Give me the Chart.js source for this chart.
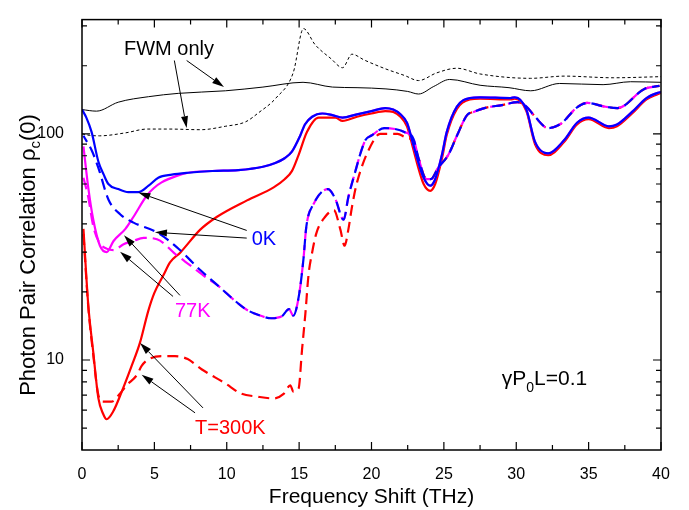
<!DOCTYPE html>
<html>
<head>
<meta charset="utf-8">
<script src="https://cdn.jsdelivr.net/npm/chart.js@4.4.0/dist/chart.umd.min.js"></script>
<style>
  body { margin: 0; background: #fff; }
  canvas { display: block; }
</style>
</head>
<body>
<canvas id="myChart" width="689" height="510"></canvas>
<script>
// tick labels
const xTickValues = [0, 5, 10, 15, 20, 25, 30, 35, 40];
const yTickValues = [5, 6, 7, 8, 9, 10, 20, 30, 40, 50, 60, 70, 80, 90, 100, 200, 300];
const yTickLabels = [10, 100];

// FWM only (black)
const fwmSolidX = [0, 1.0, 2.5, 4.6, 6.65, 9.9, 12.5, 15.27, 17.3, 19, 21, 22.5, 23.25, 24.3, 25.4, 27.5, 29.5, 31, 33, 36, 37.9, 40];
const fwmSolidY = [128, 126, 138, 146, 151, 155, 161, 169, 161, 160, 158, 154, 150, 162, 174, 164, 160, 155, 167, 165, 170, 169];
const fwmDotX = [0, 0.5, 1.2, 3, 4.5, 6, 8.2, 9.9, 11.3, 12.2, 13.4, 14.6, 15.3, 16.1, 17.2, 18.0, 18.65, 19.5, 20.95, 22.3, 23.25, 24.5, 25.9, 27.5, 31, 33.3, 36.7, 40];
const fwmDotY = [100, 98.5, 98, 101, 105, 105, 104.3, 108, 113, 124, 144, 187, 292, 248, 215, 196, 225, 212, 194, 181, 172, 186, 195, 184, 176, 180, 177, 179];

// 0K (blue)
const k0SolidX = [0, 0.3, 0.66, 1.13, 1.5, 1.82, 2.5, 3.2, 3.9, 4.6, 5.27, 6.2, 7.34, 9, 10.8, 12.5, 13.35, 14.0, 14.5, 15.08, 15.4, 15.9, 16.6, 17.3, 18.0, 19, 20, 20.95, 21.5, 22.0, 22.45, 22.9, 23.15, 23.6, 24.06, 24.4, 24.87, 25.2, 25.9, 26.8, 27.5, 29.6, 29.9, 30.7, 31.3, 32.2, 33.3, 34.2, 35.0, 36.4, 36.96, 38, 39.0, 39.8, 40];
const k0SolidY = [128, 118, 102, 75.5, 66, 60, 57, 55.2, 55.3, 59, 64, 66, 67.3, 68.5, 69.1, 71.5, 74.3, 78, 83.4, 98.3, 110, 119, 123, 121, 118, 122, 126, 130, 128, 122, 112, 89, 78, 64, 59, 63, 81, 102, 132, 144, 145, 144, 145, 128, 92, 82, 93.6, 112, 118, 108, 110, 125, 144, 152, 153];
const k0DashX = [0.1, 0.66, 1.13, 1.84, 2.65, 3.56, 5.18, 6.56, 8.17, 9.33, 10.47, 11.3, 12.2, 13.1, 13.8, 14.3, 14.6, 15.0, 15.3, 15.5, 16.0, 17.0, 17.5, 18.07, 18.4, 18.76, 19.57, 20.0, 20.9, 22.3, 22.9, 23.25, 23.8, 24.1, 24.6, 25.3, 25.9, 26.6, 27.05, 27.8, 29.0, 30.1, 30.7, 31.3, 32.2, 33.1, 34.2, 34.9, 36.1, 37.0, 38.85, 39.9];
const k0DashY = [98, 84.8, 70.7, 51, 44, 40.5, 36.7, 31.5, 25, 21.5, 18.5, 16.8, 15.8, 15.3, 15.6, 16.8, 15.7, 19.5, 28, 39, 49, 57, 51.6, 41.7, 52.5, 64, 93.6, 98.3, 106, 101.7, 95, 78, 63, 63, 70.7, 80.6, 98, 121, 125, 130, 134, 138, 132, 119, 106, 111, 131, 137, 132, 130, 158, 163];

// 77K (magenta)
const k77SolidX = [0.1, 0.43, 0.78, 1.24, 1.7, 2.18, 3.0, 3.56, 4.49, 4.95, 5.5, 6.5, 7.34, 9, 10.8, 12.5, 13.35, 14.0, 14.5, 15.08, 15.4, 15.9, 16.6, 17.3, 18.0, 19, 20, 20.95, 21.5, 22.0, 22.45, 22.9, 23.15, 23.6, 24.06, 24.4, 24.87, 25.2, 25.9, 26.8, 27.5, 29.6, 29.9, 30.7, 31.3, 32.2, 33.3, 34.2, 35.0, 36.4, 36.96, 38, 39.0, 39.8, 40];
const k77SolidY = [88, 58, 41.7, 32, 30, 33.6, 38, 43, 53.5, 57.5, 61, 65, 67.3, 68.5, 69.1, 71.5, 74.3, 78, 83.4, 98.3, 110, 119, 123, 121, 118, 122, 126, 130, 128, 122, 112, 89, 78, 64, 59, 63, 81, 102, 132, 144, 145, 144, 145, 128, 92, 82, 93.6, 112, 118, 108, 110, 125, 144, 152, 153];
const k77DashX = [0.1, 0.43, 0.78, 1.2, 1.73, 2.2, 2.87, 3.5, 4.26, 5.18, 6.56, 7.48, 8.64, 9.33, 10.47, 11.3, 12.2, 13.1, 13.8, 14.3, 14.6, 15.0, 15.3, 15.5, 16.0, 17.0, 17.5, 18.07, 18.4, 18.76, 19.57, 20.0, 20.9, 22.3, 22.9, 23.25, 23.8, 24.1, 24.6, 25.3, 25.9, 26.6, 27.05, 27.8, 29.0, 30.1, 30.7, 31.3, 32.2, 33.1, 34.2, 34.9, 36.1, 37.0, 38.85, 39.9];
const k77DashY = [64, 52.5, 39, 33, 31, 30.6, 32.5, 33.5, 34.7, 34.2, 29, 26.2, 23, 21.5, 18.5, 16.8, 15.8, 15.3, 15.6, 16.8, 15.7, 19.5, 28, 39, 49, 57, 51.6, 41.7, 52.5, 64, 93.6, 98.3, 106, 101.7, 95, 78, 63, 63, 70.7, 80.6, 98, 121, 125, 130, 134, 138, 132, 119, 106, 111, 131, 137, 132, 130, 158, 163];

// T=300K (red)
const k300SolidX = [0.1, 0.43, 0.78, 1.13, 1.45, 1.7, 2.16, 2.74, 3.43, 4.0, 4.58, 5.0, 5.64, 6.08, 6.8, 8.17, 9.33, 11.4, 13.24, 14.0, 14.5, 14.96, 15.54, 16.35, 17.5, 18.0, 19, 20, 20.95, 21.5, 22.0, 22.45, 22.9, 23.15, 23.6, 24.06, 24.4, 24.87, 25.2, 25.9, 26.8, 27.5, 29.6, 29.9, 30.7, 31.3, 32.2, 33.3, 34.2, 35.0, 36.4, 36.96, 38, 39.0, 39.8, 40];
const k300SolidY = [38, 17.6, 10.8, 6.78, 5.8, 5.47, 5.93, 7.23, 9.42, 11.9, 16.5, 19.8, 23.8, 27, 29.9, 37.7, 43, 50.8, 58, 63, 68.4, 80.6, 102, 118, 118, 114, 119, 123, 126, 125, 119, 108, 85, 74, 60, 56, 60, 78, 99, 129, 142, 143, 142, 143, 126, 90, 80.5, 92, 110, 116, 106, 108, 123, 142, 150, 152];
const k300DashX = [0.1, 0.43, 0.78, 1.13, 1.47, 2.04, 2.62, 3.08, 3.8, 4.12, 4.58, 5.5, 6.42, 7.3, 8.26, 9.88, 11.0, 12.09, 13.24, 13.93, 14.39, 14.6, 14.96, 15.2, 15.43, 15.65, 15.9, 16.2, 16.8, 17.4, 17.85, 18.14, 18.4, 18.65, 19.0, 20.15, 20.6, 21.8, 22.3, 22.9, 23.25, 23.8, 24.1, 24.6, 25.3, 25.9, 26.6, 27.05, 27.8, 29.0, 30.1, 30.7, 31.3, 32.2, 33.1, 34.2, 34.9, 36.1, 37.0, 38.85, 39.9];
const k300DashY = [36, 17.3, 10.5, 7.0, 6.55, 6.55, 7.1, 7.73, 8.6, 9.42, 10.06, 10.4, 10.4, 10.1, 9.1, 7.9, 7.1, 6.89, 6.76, 7.08, 7.73, 7.25, 7.47, 11.1, 16, 23.8, 29.9, 36.5, 43, 46, 37.7, 32, 37.7, 47.5, 61, 93.6, 100, 100, 96.8, 92, 78, 63, 63, 70.7, 80.6, 98, 121, 125, 130, 134, 138, 132, 119, 106, 111, 131, 137, 132, 130, 158, 163];

const FONT = "'Liberation Sans', Arial, Helvetica, sans-serif";

function pts(xs, ys) {
  return xs.map((x, i) => ({ x: x, y: ys[i] }));
}

function series(xs, ys, color, width, dash, offset, order) {
  return {
    data: pts(xs, ys),
    borderColor: color,
    borderWidth: width,
    borderDash: dash,
    borderDashOffset: offset,
    pointRadius: 0,
    fill: false,
    cubicInterpolationMode: "monotone",
    order: order,
  };
}

// labels and arrows, in data units (THz, correlation)
const labels = [
  { text: "FWM only", x: 2.9, y: 224, color: "#000" },
  { text: "0K", x: 11.72, y: 32.2, color: "#0000ff" },
  { text: "77K", x: 6.42, y: 15.5, color: "#ff00ff" },
  { text: "T=300K", x: 7.81, y: 4.72, color: "#ff0000" },
];
const arrows = [
  [7.23, 211, 9.81, 161],
  [6.38, 211, 7.23, 106],
  [11.38, 37.4, 3.89, 55.0],
  [11.38, 34.6, 5.04, 36.7],
  [6.77, 19.3, 2.9, 35.6],
  [6.29, 19.1, 2.63, 30.1],
  [8.36, 6.14, 4.01, 11.9],
  [7.81, 5.84, 4.12, 8.61],
];

const overlay = {
  id: "overlay",
  afterDraw(chart) {
    const ctx = chart.ctx;
    const a = chart.chartArea;
    const sx = chart.scales.x;
    const sy = chart.scales.y;
    ctx.save();
    ctx.strokeStyle = "#000";
    ctx.fillStyle = "#000";

    // frame + inward ticks
    ctx.lineWidth = 1.5;
    ctx.strokeRect(a.left, a.top, a.right - a.left, a.bottom - a.top);
    ctx.lineWidth = 1.2;
    ctx.beginPath();
    for (let v = 0; v <= 40; v += 2.5) {
      const px = sx.getPixelForValue(v);
      const len = v % 5 === 0 ? 8 : 5;
      ctx.moveTo(px, a.bottom); ctx.lineTo(px, a.bottom - len);
      ctx.moveTo(px, a.top); ctx.lineTo(px, a.top + len);
    }
    yTickValues.forEach((v) => {
      const py = sy.getPixelForValue(v);
      const len = yTickLabels.includes(v) ? 8 : 5;
      ctx.moveTo(a.left, py); ctx.lineTo(a.left + len, py);
      ctx.moveTo(a.right, py); ctx.lineTo(a.right - len, py);
    });
    ctx.stroke();

    // arrows
    ctx.lineWidth = 1;
    arrows.forEach(([x1, y1, x2, y2]) => {
      const p1x = sx.getPixelForValue(x1), p1y = sy.getPixelForValue(y1);
      const p2x = sx.getPixelForValue(x2), p2y = sy.getPixelForValue(y2);
      const ang = Math.atan2(p2y - p1y, p2x - p1x);
      const hl = 12, hw = 3.5;
      const bx = p2x - hl * Math.cos(ang), by = p2y - hl * Math.sin(ang);
      ctx.beginPath();
      ctx.moveTo(p1x, p1y);
      ctx.lineTo(bx, by);
      ctx.stroke();
      ctx.beginPath();
      ctx.moveTo(p2x, p2y);
      ctx.lineTo(bx + hw * Math.sin(ang), by - hw * Math.cos(ang));
      ctx.lineTo(bx - hw * Math.sin(ang), by + hw * Math.cos(ang));
      ctx.closePath();
      ctx.fill();
    });

    // labels
    ctx.textBaseline = "alphabetic";
    ctx.textAlign = "left";
    ctx.font = "20px " + FONT;
    labels.forEach((l) => {
      ctx.fillStyle = l.color;
      ctx.fillText(l.text, sx.getPixelForValue(l.x), sy.getPixelForValue(l.y));
    });

    // gamma P0 L = 0.1
    ctx.fillStyle = "#000";
    let gx = sx.getPixelForValue(29.0);
    const gy = sy.getPixelForValue(7.79);
    ctx.font = "21px " + FONT;
    ctx.fillText("\u03B3P", gx, gy);
    gx += ctx.measureText("\u03B3P").width;
    ctx.font = "14px " + FONT;
    ctx.fillText("0", gx, gy + 7);
    gx += ctx.measureText("0").width;
    ctx.font = "21px " + FONT;
    ctx.fillText("L=0.1", gx, gy);

    // x title
    ctx.textAlign = "center";
    ctx.font = "21px " + FONT;
    ctx.fillText("Frequency Shift (THz)", (a.left + a.right) / 2, 503);

    // y title with subscript
    ctx.translate(35, 255);
    ctx.rotate(-Math.PI / 2);
    ctx.textAlign = "left";
    ctx.font = "22px " + FONT;
    const t1 = "Photon Pair Correlation \u03C1";
    const w1 = ctx.measureText(t1).width;
    const w3 = ctx.measureText("(0)").width;
    ctx.font = "15px " + FONT;
    const w2 = ctx.measureText("c").width;
    let tx = -(w1 + w2 + w3) / 2;
    ctx.font = "22px " + FONT;
    ctx.fillText(t1, tx, 0);
    tx += w1;
    ctx.font = "15px " + FONT;
    ctx.fillText("c", tx, 5);
    tx += w2;
    ctx.font = "22px " + FONT;
    ctx.fillText("(0)", tx, 0);
    ctx.restore();
  },
};

Chart.defaults.font.family = FONT;

new Chart(document.getElementById("myChart").getContext("2d"), {
  type: "line",
  data: {
    datasets: [
      series(k0SolidX, k0SolidY, "#0000ff", 2.2, [], 0, 0),
      series(k0DashX, k0DashY, "#0000ff", 2.2, [11, 6], 4, 1),
      series(k77SolidX, k77SolidY, "#ff00ff", 2.2, [], 0, 2),
      series(k77DashX, k77DashY, "#ff00ff", 2.2, [12, 6], 0, 3),
      series(k300SolidX, k300SolidY, "#ff0000", 2.2, [], 0, 4),
      series(k300DashX, k300DashY, "#ff0000", 2.2, [11, 6], 0, 5),
      series(fwmSolidX, fwmSolidY, "#000000", 1, [], 0, 6),
      series(fwmDotX, fwmDotY, "#000000", 1, [3, 2.5], 0, 7),
    ],
  },
  options: {
    responsive: false,
    animation: false,
    devicePixelRatio: 1,
    layout: { padding: { top: 7, right: 28, left: 0, bottom: 0 } },
    plugins: { legend: { display: false }, tooltip: { enabled: false } },
    scales: {
      x: {
        type: "linear",
        min: 0,
        max: 40,
        afterBuildTicks: (s) => { s.ticks = xTickValues.map((v) => ({ value: v })); },
        ticks: { color: "#000", font: { size: 16 }, padding: 7, autoSkip: false, maxRotation: 0 },
        grid: { display: false },
        border: { display: false },
        afterFit: (s) => { s.height = 60; },
      },
      y: {
        type: "logarithmic",
        min: 4,
        max: 320,
        afterBuildTicks: (s) => { s.ticks = yTickValues.map((v) => ({ value: v })); },
        ticks: {
          color: "#000",
          font: { size: 16 },
          padding: 10,
          autoSkip: false,
          callback: (v) => (yTickLabels.includes(v) ? String(v) : ""),
        },
        grid: { display: false },
        border: { display: false },
        afterFit: (s) => { s.width = 82; },
      },
    },
  },
  plugins: [overlay],
});
</script>
</body>
</html>
